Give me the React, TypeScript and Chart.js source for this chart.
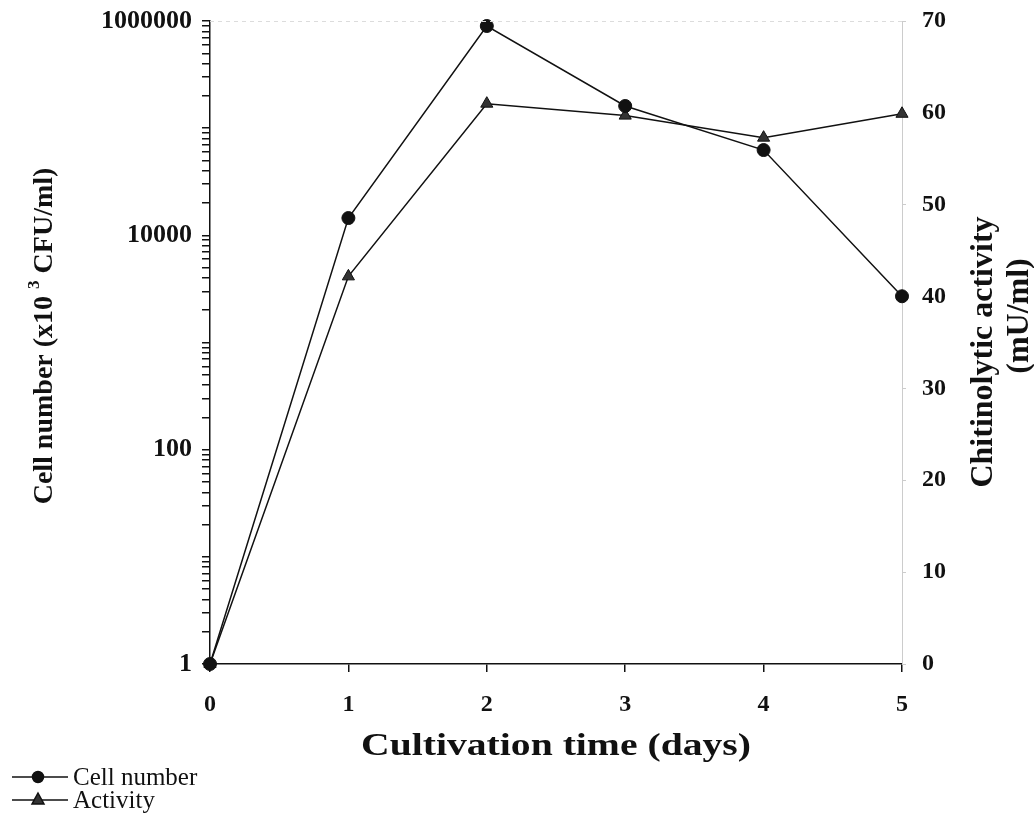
import React, { useEffect, useRef } from "react";
import { Chart, registerables } from "chart.js";

Chart.register(...registerables);

const days = [0, 1, 2, 3, 4, 5];
const cellNumber = [1, 14500, 898000, 161000, 62500, 2700];
const activity = [0, 42.2, 61.0, 59.7, 57.3, 59.9];
const leftTickLabels = [1, 100, 10000, 1000000];
const rightTickStep = 10;
const xTitle = "Cultivation time (days)";
const rightTitle = ["Chitinolytic activity", "(mU/ml)"];
const legendLabels = ["Cell number", "Activity"];

const SERIF = "'Liberation Serif', 'Times New Roman', serif";

const noOverhang = (s: any) => {
  s.paddingTop = 0;
  s.paddingBottom = 0;
  s.paddingLeft = 0;
  s.paddingRight = 0;
};

const decorPlugin = {
  id: "decor",
  afterDraw(chart: any) {
    const ctx = chart.ctx as CanvasRenderingContext2D;
    const ca = chart.chartArea;
    ctx.save();
    // faint dashed top border
    ctx.strokeStyle = "#dcdcdc";
    ctx.lineWidth = 1;
    ctx.setLineDash([4, 4]);
    ctx.beginPath();
    ctx.moveTo(ca.left, ca.top + 0.5);
    ctx.lineTo(ca.right, ca.top + 0.5);
    ctx.stroke();
    ctx.setLineDash([]);

    ctx.fillStyle = "#111";
    // x title
    ctx.font = `bold 31px ${SERIF}`;
    ctx.textAlign = "center";
    ctx.textBaseline = "middle";
    const tw = ctx.measureText(xTitle).width;
    const sx = Math.max(1, 390 / tw);
    ctx.save();
    ctx.translate(556, 747);
    ctx.scale(sx, 1);
    ctx.fillText(xTitle, 0, 0);
    ctx.restore();

    // left title with superscript
    ctx.save();
    ctx.translate(45, 336);
    ctx.rotate(-Math.PI / 2);
    const p1 = "Cell number (x10 ";
    const p2 = "3";
    const p3 = " CFU/ml)";
    ctx.font = `bold 28px ${SERIF}`;
    const w1 = ctx.measureText(p1).width;
    const w3 = ctx.measureText(p3).width;
    ctx.font = `bold 17px ${SERIF}`;
    const w2 = ctx.measureText(p2).width;
    const total = w1 + w2 + w3;
    const x0 = -total / 2;
    ctx.textAlign = "left";
    ctx.font = `bold 28px ${SERIF}`;
    ctx.fillText(p1, x0, 0);
    ctx.font = `bold 17px ${SERIF}`;
    ctx.fillText(p2, x0 + w1, -10);
    ctx.font = `bold 28px ${SERIF}`;
    ctx.fillText(p3, x0 + w1 + w2, 0);
    ctx.restore();

    // right title two lines
    ctx.font = `bold 32px ${SERIF}`;
    ctx.textAlign = "center";
    ctx.save();
    ctx.translate(984, 352);
    ctx.rotate(-Math.PI / 2);
    ctx.fillText(rightTitle[0], 0, 0);
    ctx.restore();
    ctx.save();
    ctx.translate(1020, 316);
    ctx.rotate(-Math.PI / 2);
    ctx.fillText(rightTitle[1], 0, 0);
    ctx.restore();

    // legend
    const rows = [777, 800];
    ctx.strokeStyle = "#111";
    ctx.lineWidth = 1.5;
    rows.forEach((y, i) => {
      ctx.beginPath();
      ctx.moveTo(12, y);
      ctx.lineTo(68, y);
      ctx.stroke();
      ctx.fillStyle = i === 0 ? "#111" : "#333";
      ctx.beginPath();
      if (i === 0) {
        ctx.arc(38, y, 5.5, 0, Math.PI * 2);
      } else {
        ctx.moveTo(38, y - 7);
        ctx.lineTo(44, y + 4);
        ctx.lineTo(32, y + 4);
        ctx.closePath();
      }
      ctx.fill();
      ctx.stroke();
      ctx.fillStyle = "#111";
      ctx.font = `25px ${SERIF}`;
      ctx.textAlign = "left";
      ctx.textBaseline = "middle";
      ctx.fillText(legendLabels[i], 73, y + 1);
    });
    ctx.restore();
  },
};

export default function App() {
  const ref = useRef<HTMLCanvasElement | null>(null);
  useEffect(() => {
    if (!ref.current) return;
    const chart = new Chart(ref.current, {
      type: "line",
      data: {
        datasets: [
          {
            label: legendLabels[0],
            data: days.map((d, i) => ({ x: d, y: cellNumber[i] })),
            yAxisID: "y",
            borderColor: "#111",
            backgroundColor: "#111",
            borderWidth: 1.5,
            pointStyle: "circle",
            pointRadius: 6.5,
            pointBorderWidth: 1,
            clip: false as any,
          },
          {
            label: legendLabels[1],
            data: days.map((d, i) => ({ x: d, y: activity[i] })),
            yAxisID: "y1",
            borderColor: "#111",
            backgroundColor: "#333",
            borderWidth: 1.5,
            pointStyle: "triangle",
            pointRadius: 7,
            pointBorderWidth: 1,
            clip: false as any,
          },
        ],
      },
      options: {
        animation: false,
        responsive: true,
        maintainAspectRatio: false,
        layout: { padding: { top: 21, left: 0, right: 0, bottom: 0 } },
        plugins: { legend: { display: false }, tooltip: { enabled: false } },
        scales: {
          x: {
            type: "linear",
            min: 0,
            max: 5,
            ticks: {
              stepSize: 1,
              color: "#111",
              font: { family: SERIF, size: 24, weight: "bold" },
              padding: 18,
            },
            grid: { drawOnChartArea: false, tickLength: 8, color: "#111", lineWidth: 1.5 },
            border: { color: "#111", width: 1.5 },
            afterFit: (s: any) => {
              s.height = 156;
              noOverhang(s);
            },
          },
          y: {
            type: "logarithmic",
            position: "left",
            min: 1,
            max: 1000000,
            afterBuildTicks: (s: any) => {
              const t: any[] = [];
              for (let e = 0; e < 6; e++) {
                for (let d = 1; d <= 9; d++) t.push({ value: d * Math.pow(10, e) });
              }
              t.push({ value: 1000000 });
              s.ticks = t;
            },
            ticks: {
              autoSkip: false,
              color: "#111",
              font: { family: SERIF, size: 26, weight: "bold" },
              padding: 10,
              callback: (v: any) => (leftTickLabels.includes(Number(v)) ? String(v) : ""),
            },
            grid: { drawOnChartArea: false, tickLength: 8, color: "#111", lineWidth: 1.5 },
            border: { color: "#111", width: 1.5 },
            afterFit: (s: any) => {
              s.width = 210;
              noOverhang(s);
            },
          },
          y1: {
            type: "linear",
            position: "right",
            min: 0,
            max: 70,
            ticks: {
              stepSize: rightTickStep,
              color: "#111",
              font: { family: SERIF, size: 24, weight: "bold" },
              padding: 16,
            },
            grid: { drawOnChartArea: false, tickLength: 4, color: "#cccccc" },
            border: { color: "#cccccc", dash: [3, 3], width: 1 },
            afterFit: (s: any) => {
              s.width = 132;
              noOverhang(s);
            },
          },
        },
      },
      plugins: [decorPlugin],
    });
    return () => chart.destroy();
  }, []);
  return (
    <div style={{ position: "fixed", left: 0, top: 0, width: 1034, height: 820, background: "#fff" }}>
      <canvas ref={ref} />
    </div>
  );
}
